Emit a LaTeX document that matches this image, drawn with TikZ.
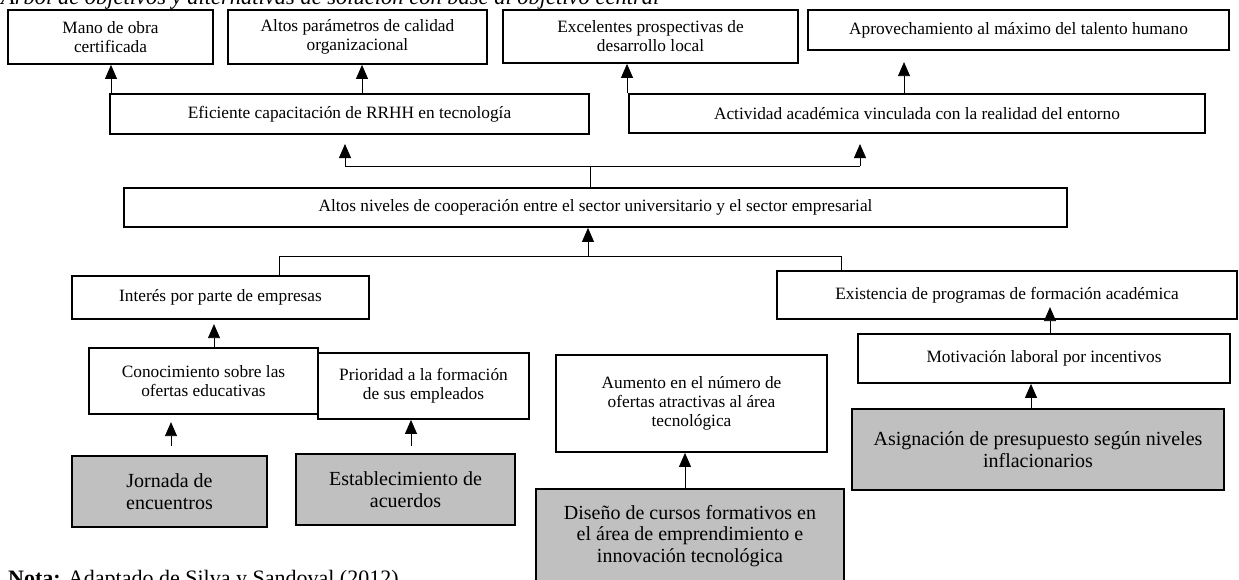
\documentclass[tikz,border=0pt]{standalone}
\usepackage{fontspec}
\setmainfont{Liberation Serif}
\usetikzlibrary{arrows.meta}
\definecolor{boxgray}{HTML}{C0C0C0}
\tikzset{
  box/.style={draw, line width=1.8pt, fill=white, inner sep=0pt, align=center,
    font=\fontsize{17.3}{19}\selectfont},
  gbox/.style={box, fill=boxgray, font=\fontsize{20}{21.5}\selectfont},
  arr/.style={line width=0.8pt, -{Triangle[width=12pt,length=14pt]}},
  link/.style={line width=0.8pt},
  plain/.style={inner sep=0pt, anchor=base west},
}
\newcommand\mybox[7]{%
  \pgfmathsetmacro\cxx{(#2+#4)/2}\pgfmathsetmacro\cyy{(#3+#5)/2}%
  \pgfmathsetmacro\ww{#4-#2}\pgfmathsetmacro\hh{#5-#3}%
  \node[#6, minimum width=\ww pt, minimum height=\hh pt] (#1) at (\cxx,\cyy) {#7};}
\begin{document}
\begin{tikzpicture}[x=1pt,y=-1pt]
\useasboundingbox (0,0) rectangle (1239,579);
% title and note
\node[plain, font=\fontsize{22.5}{24}\selectfont\itshape] (title) at (1,4.5)
  {Árbol de objetivos y alternativas de solución con base al objetivo central};
\node[plain, font=\fontsize{22}{24}\selectfont] (nota) at (8,585)
  {\textbf{Nota:} Adaptado de Silva y Sandoval (2012)};
% row 1
\mybox{mano}{8}{10}{213}{64}{box}{Mano de obra\\certificada}
\mybox{altosp}{228}{10}{487}{64}{box}{Altos parámetros de calidad\\organizacional}
\mybox{excel}{503}{10}{798}{63}{box}{Excelentes prospectivas de\\desarrollo local}
\mybox{aprov}{808}{10}{1229}{50}{box}{Aprovechamiento al máximo del talento humano}
% row 2
\mybox{efic}{110}{94}{589}{134}{box}{Eficiente capacitación de RRHH en tecnología}
\mybox{activ}{629}{94}{1205}{133}{box}{Actividad académica vinculada con la realidad del entorno}
% central
\mybox{central}{124}{188}{1067}{227}{box}{Altos niveles de cooperación entre el sector universitario y el sector empresarial}
% causes
\mybox{interes}{72}{276}{369}{319}{box}{Interés por parte de empresas}
\mybox{exist}{777}{271}{1237}{319}{box}{Existencia de programas de formación académica}
\mybox{conoc}{89}{348}{318}{414}{box}{Conocimiento sobre las\\ofertas educativas}
\mybox{prior}{318}{353}{529}{419}{box}{Prioridad a la formación\\de sus empleados}
\mybox{aument}{556}{355}{827}{452}{box}{Aumento en el número de\\ofertas atractivas al área\\tecnológica}
\mybox{motiv}{858}{334}{1230}{383}{box}{Motivación laboral por incentivos}
% alternatives
\mybox{jornada}{72}{456}{267}{527}{gbox}{Jornada de\\encuentros}
\mybox{estab}{296}{454}{515}{525}{gbox}{Establecimiento de\\acuerdos}
\mybox{diseno}{536}{489}{844}{583}{gbox}{Diseño de cursos formativos en\\el área de emprendimiento e\\innovación tecnológica}
\mybox{asign}{852}{409}{1224}{490}{gbox}{Asignación de presupuesto según niveles\\inflacionarios}
% connectors row 2 -> row 1
\draw[arr] (111,0 |- efic.north) -- (111,0 |- mano.south);
\draw[arr] (362,0 |- efic.north) -- (362,0 |- altosp.south);
\draw[arr] (627,0 |- activ.north) -- (627,0 |- excel.south);
\draw[arr] (904,0 |- activ.north) -- ++(0,-31);
% central -> row 2
\coordinate (uL) at (345,166);
\coordinate (uM) at (590,166);
\coordinate (uR) at (860,166);
\draw[link] (central.north -| uM) -- (uM);
\draw[link] (uL) -- (uR);
\draw[arr] (uL) -- ++(0,-22);
\draw[arr] (uR) -- ++(0,-22);
% causes -> central
\coordinate (lL) at (279,256);
\coordinate (lM) at (588,256);
\coordinate (lR) at (841,256);
\draw[link] (interes.north -| lL) -- (lL) -- (lR) -- (exist.north -| lR);
\draw[arr] (lM) -- (central.south -| lM);
% lower levels
\draw[arr] (214,0 |- conoc.north) -- ++(0,-23);
\draw[arr] (1050,0 |- motiv.north) -- ++(0,-26);
\draw[arr] (171,0 |- jornada.north) ++(0,-9) -- ++(0,-24);
\draw[arr] (411,0 |- estab.north) ++(0,-7) -- (411,0 |- prior.south);
\draw[arr] (685,0 |- diseno.north) -- (685,0 |- aument.south);
\draw[arr] (1031,0 |- asign.north) -- (1031,0 |- motiv.south);
\end{tikzpicture}
\end{document}
